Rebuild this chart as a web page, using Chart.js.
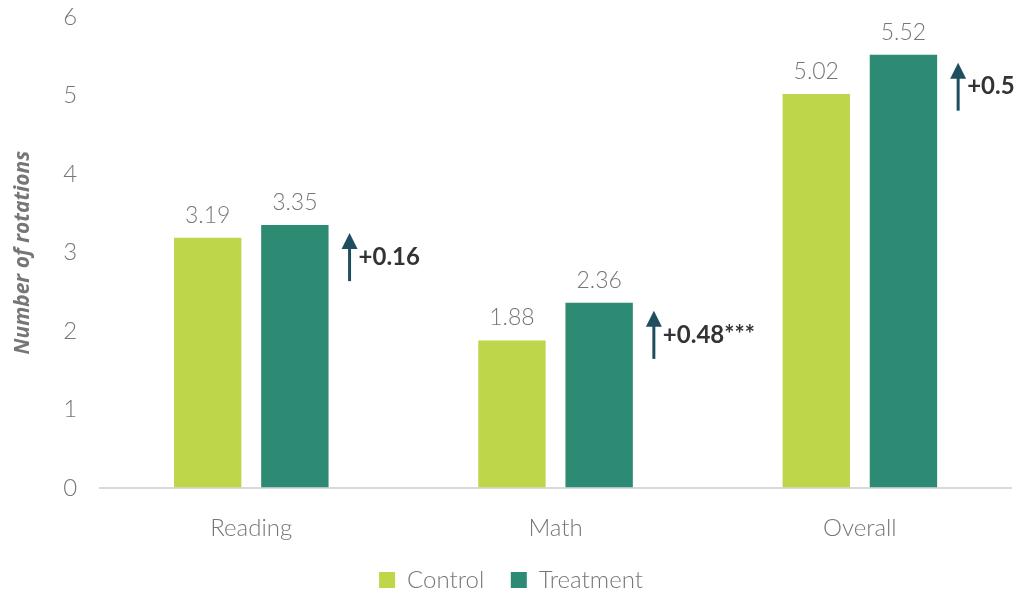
<!DOCTYPE html>
<html>
<head>
<meta charset="utf-8">
<script src="https://cdn.jsdelivr.net/npm/chart.js@4"></script>
<style>
  html, body { margin: 0; padding: 0; background: #fff; }
  #wrap { width: 1021px; height: 592px; }
</style>
</head>
<body>
<div id="wrap"><canvas id="chart" width="1021" height="592"></canvas></div>
<script>
"use strict";
// chart data
const categories = ["Reading", "Math", "Overall"];
const controlValues = [3.19, 1.88, 5.02];
const treatmentValues = [3.35, 2.36, 5.52];
const diffLabels = ["+0.16", "+0.48***", "+0.5"];
const yTicks = [0, 1, 2, 3, 4, 5, 6];

const FONT = "Lato, 'Noto Sans', sans-serif";

// value labels over bars + arrows with differences
const annotate = {
  id: "annotate",
  afterDatasetsDraw(chart) {
    const ctx = chart.ctx;
    ctx.save();
    ctx.font = "300 23px " + FONT;
    ctx.fillStyle = "#767676";
    ctx.textAlign = "center";
    ctx.textBaseline = "bottom";
    chart.data.datasets.forEach((ds, di) => {
      chart.getDatasetMeta(di).data.forEach((bar, i) => {
        ctx.fillText(ds.data[i].toFixed(2), bar.x, bar.y - 11);
      });
    });
    // arrows
    const meta = chart.getDatasetMeta(1);
    meta.data.forEach((bar, i) => {
      const ax = bar.x + bar.width / 2 + 21;
      const top = bar.y + 8;
      const bottom = top + 48;
      ctx.strokeStyle = "#1f4e5f";
      ctx.fillStyle = "#1f4e5f";
      ctx.lineWidth = 3;
      ctx.beginPath();
      ctx.moveTo(ax, bottom);
      ctx.lineTo(ax, top + 12);
      ctx.stroke();
      ctx.beginPath();
      ctx.moveTo(ax, top);
      ctx.lineTo(ax - 8, top + 16);
      ctx.lineTo(ax + 8, top + 16);
      ctx.closePath();
      ctx.fill();
      ctx.font = "bold 24px " + FONT;
      ctx.fillStyle = "#333333";
      ctx.textAlign = "left";
      ctx.textBaseline = "middle";
      ctx.fillText(diffLabels[i], ax + 9, (top + bottom) / 2);
    });
    ctx.restore();
  }
};

new Chart(document.getElementById("chart"), {
  type: "bar",
  data: {
    labels: categories,
    datasets: [{
      label: "Control",
      data: controlValues,
      backgroundColor: "#bed64a",
      categoryPercentage: 0.573,
      barPercentage: 0.773
    }, {
      label: "Treatment",
      data: treatmentValues,
      backgroundColor: "#2e8b73",
      categoryPercentage: 0.573,
      barPercentage: 0.773
    }]
  },
  options: {
    responsive: false,
    animation: false,
    layout: { padding: { left: 10, right: 9, top: 0, bottom: -10 } },
    plugins: {
      legend: {
        position: "bottom",
        labels: {
          boxWidth: 16,
          boxHeight: 16,
          padding: 7,
          color: "#767676",
          font: { family: FONT, size: 24, weight: "300", lineHeight: 1 },
          generateLabels: (chart) => {
            const items = Chart.defaults.plugins.legend.labels.generateLabels(chart);
            items[0].text += "   "; // wider gap between the two items
            return items;
          }
        }
      },
      tooltip: { enabled: false }
    },
    scales: {
      x: {
        grid: { display: false },
        border: { display: false },
        ticks: { color: "#767676", padding: 18, font: { family: FONT, size: 24, weight: "300" } }
      },
      y: {
        min: 0,
        max: 6,
        afterBuildTicks: (axis) => { axis.ticks = yTicks.map(v => ({ value: v })); },
        afterFit: (axis) => { axis.paddingTop = 17; axis.paddingBottom = 12; },
        grid: {
          drawTicks: false,
          color: (c) => c.tick && c.tick.value === 0 ? "#d9d9d9" : "transparent",
          lineWidth: 2
        },
        border: { display: false },
        ticks: { color: "#767676", padding: 22, font: { family: FONT, size: 24, weight: "300" } },
        title: {
          display: true,
          text: "Number of rotations",
          color: "#767676",
          padding: { top: 0, bottom: 6 },
          font: { family: "'Open Sans', sans-serif", size: 21, weight: "bold", style: "italic" }
        }
      }
    }
  },
  plugins: [annotate]
});
</script>
</body>
</html>
